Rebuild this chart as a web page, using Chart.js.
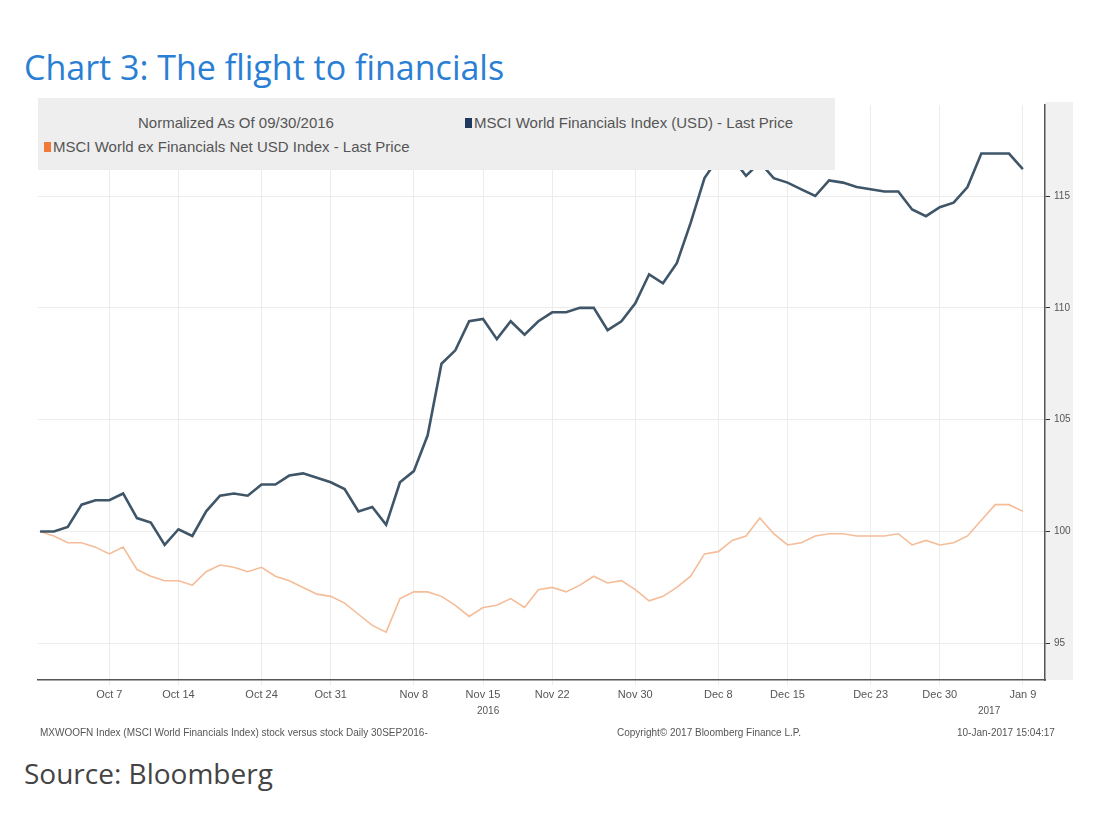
<!DOCTYPE html>
<html><head><meta charset="utf-8">
<script src="https://cdn.jsdelivr.net/npm/chart.js@4"></script>
<style>
body{margin:0;width:1108px;height:820px;background:#fff;position:relative;overflow:hidden;font-family:"Liberation Sans",sans-serif}
#t{position:absolute;left:24px;top:44px;font:34px "Open Sans",sans-serif;color:#2a7fd4}
#s{position:absolute;left:24px;top:754px;font:28px "Open Sans",sans-serif;color:#444}
#wrap{position:absolute;left:0;top:95px;width:1108px;height:640px}
#leg{position:absolute;left:38px;top:98px;width:797px;height:72px;background:#eeeeee;font-size:15px;color:#555;z-index:2}
.f{position:absolute;font-size:10px;color:#555;white-space:nowrap}
.sq{display:inline-block;width:7px;height:10px;margin-right:2px}
</style></head><body>
<div id="t">Chart 3: The flight to financials</div>
<div id="wrap"><canvas id="c"></canvas></div>
<div id="leg">
<div style="position:absolute;left:100px;top:16px">Normalized As Of 09/30/2016</div>
<div style="position:absolute;left:427px;top:16px"><span class="sq" style="background:#1f3a5c"></span>MSCI World Financials Index (USD) - Last Price</div>
<div style="position:absolute;left:6px;top:40px"><span class="sq" style="background:#f07a3a"></span>MSCI World ex Financials Net USD Index - Last Price</div>
</div>
<div class="f" style="left:477px;top:705px">2016</div>
<div class="f" style="left:978px;top:705px">2017</div>
<div class="f" style="left:40px;top:727px">MXWOOFN Index (MSCI World Financials Index) stock versus stock  Daily 30SEP2016-</div>
<div class="f" style="left:617px;top:727px">Copyright© 2017 Bloomberg Finance L.P.</div>
<div class="f" style="left:957px;top:727px">10-Jan-2017 15:04:17</div>
<div id="s">Source: Bloomberg</div>
<script>
const tickLabels=["Oct 7","Oct 14","Oct 24","Oct 31","Nov 8","Nov 15","Nov 22","Nov 30","Dec 8","Dec 15","Dec 23","Dec 30","Jan 9"];
const tickIndex=[5,10,16,21,27,32,37,43,49,54,60,65,71];
const financials=[100,100,100.2,101.2,101.4,101.4,101.7,100.6,100.4,99.4,100.1,99.8,100.9,101.6,101.7,101.6,102.1,102.1,102.5,102.6,102.4,102.2,101.9,100.9,101.1,100.3,102.2,102.7,104.3,107.5,108.1,109.4,109.5,108.6,109.4,108.8,109.4,109.8,109.8,110.0,110.0,109.0,109.4,110.2,111.5,111.1,112.0,113.8,115.8,116.7,116.7,115.9,116.5,115.8,115.6,115.3,115.0,115.7,115.6,115.4,115.3,115.2,115.2,114.4,114.1,114.5,114.7,115.4,116.9,116.9,116.9,116.2];
const exFinancials=[100,99.8,99.5,99.5,99.3,99.0,99.3,98.3,98.0,97.8,97.8,97.6,98.2,98.5,98.4,98.2,98.4,98.0,97.8,97.5,97.2,97.1,96.8,96.3,95.8,95.5,97.0,97.3,97.3,97.1,96.7,96.2,96.6,96.7,97.0,96.6,97.4,97.5,97.3,97.6,98.0,97.7,97.8,97.4,96.9,97.1,97.5,98.0,99.0,99.1,99.6,99.8,100.6,99.9,99.4,99.5,99.8,99.9,99.9,99.8,99.8,99.8,99.9,99.4,99.6,99.4,99.5,99.8,100.5,101.2,101.2,100.9];
const yTicks=[95,100,105,110,115];
const pts=a=>a.map((v,i)=>({x:i,y:v}));
const bgPlugin={id:'bg',beforeDraw(c){const {ctx,chartArea:a}=c;ctx.save();ctx.fillStyle='#f1f1f1';ctx.fillRect(a.right,a.top-3,28,a.bottom-a.top+3);ctx.restore();}};
new Chart(document.getElementById('c'),{type:'line',
data:{datasets:[
{data:pts(financials),borderColor:'#3f5568',borderWidth:2.6,pointRadius:0,tension:0},
{data:pts(exFinancials),borderColor:'#f5bc98',borderWidth:1.6,pointRadius:0,tension:0}]},
options:{responsive:true,maintainAspectRatio:false,animation:false,
layout:{padding:{left:38,right:30,top:3,bottom:0}},
plugins:{legend:{display:false},tooltip:{enabled:false}},
scales:{
x:{type:'linear',min:-0.15,max:72.6,
afterBuildTicks:s=>{s.ticks=tickIndex.map(v=>({value:v}));},
afterFit:s=>{s.height=55;},
ticks:{callback:(v)=>{const k=tickIndex.indexOf(v);return k>=0?tickLabels[k]:'';},font:{size:11,family:'Liberation Sans'},color:'#555',maxRotation:0,autoSkip:false},
grid:{color:'#ececec',drawTicks:true,tickLength:5},border:{color:'#555',width:1.5}},
y:{position:'right',min:93.36,max:119.07,
afterBuildTicks:s=>{s.ticks=yTicks.map(v=>({value:v}));},
afterFit:s=>{s.width=33;},
ticks:{font:{size:10,family:'Liberation Sans'},color:'#555',padding:4},
grid:{color:'#ececec',tickLength:5,tickColor:'#333'},border:{color:'#555',width:1.5}}}},
plugins:[bgPlugin]});
</script></body></html>
